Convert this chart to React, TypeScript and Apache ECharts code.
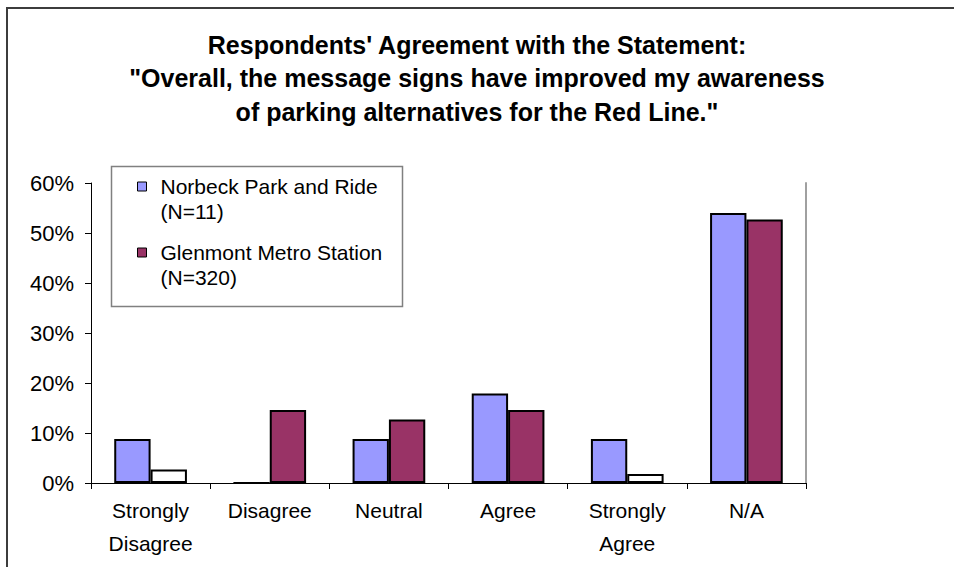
import React, { useEffect, useRef } from "react";
import * as echarts from "echarts";

const titleLines = [
  "Respondents' Agreement with the Statement:",
  "\"Overall, the message signs have improved my awareness",
  "of parking alternatives for the Red Line.\"",
];
const categories = ["Strongly\nDisagree", "Disagree", "Neutral", "Agree", "Strongly\nAgree", "N/A"];
const seriesNames = ["Norbeck Park and Ride\n(N=11)", "Glenmont Metro Station\n(N=320)"];
const norbeck = [8.8, 0, 8.8, 17.9, 8.8, 54.0];
const glenmont = [2.7, 14.6, 12.7, 14.6, 1.8, 52.7];
const whiteGlenmont = [0, 4]; // category indexes drawn with white fill in the original
const yTicks = [0, 10, 20, 30, 40, 50, 60];

const FONT = "'Liberation Sans', Arial, Helvetica, sans-serif";

export default function App() {
  const ref = useRef<HTMLDivElement>(null);
  useEffect(() => {
    document.body.style.margin = "0";
    const chart = echarts.init(ref.current!, null, { renderer: "svg" });
    const iconPath = "path://M0,0L9,0L9,9L0,9Z M18,34";
    chart.setOption({
      animation: false,
      backgroundColor: "#ffffff",
      textStyle: { fontFamily: FONT },
      title: {
        text: titleLines.join("\n"),
        left: "center",
        top: 28,
        padding: 0,
        textStyle: {
          fontFamily: FONT,
          fontSize: 25,
          fontWeight: "bold",
          color: "#000",
          lineHeight: 33.5,
        },
      },
      graphic: [
        {
          type: "rect",
          shape: { x: 7, y: 8, width: 1000, height: 1000 },
          style: { fill: "none", stroke: "#3c3c3c", lineWidth: 2 },
          silent: true,
          z: 0,
        },
        {
          type: "rect",
          shape: { x: 111.5, y: 166.5, width: 291, height: 140 },
          style: { fill: "#fff", stroke: "#808080", lineWidth: 1.5 },
          silent: true,
          z: 10,
        },
      ],
      legend: {
        orient: "vertical",
        left: 137,
        top: 174,
        padding: 0,
        itemGap: 16,
        itemWidth: 18,
        itemHeight: 34,
        icon: iconPath,
        z: 20,
        itemStyle: { borderColor: "#000", borderWidth: 1 },
        textStyle: { fontFamily: FONT, fontSize: 21, color: "#000", lineHeight: 25 },
        data: seriesNames,
      },
      grid: { left: 91, top: 183, width: 715, height: 300, containLabel: false },
      xAxis: {
        type: "category",
        data: categories,
        axisLine: { lineStyle: { color: "#000", width: 1 } },
        axisTick: { show: true, length: 6, lineStyle: { color: "#000" } },
        axisLabel: {
          fontFamily: FONT,
          fontSize: 21,
          color: "#000",
          lineHeight: 33,
          margin: 11,
          interval: 0,
        },
      },
      yAxis: [
        {
          type: "value",
          min: yTicks[0],
          max: yTicks[yTicks.length - 1],
          interval: 10,
          axisLine: { show: true, lineStyle: { color: "#000", width: 1 } },
          axisTick: { show: true, length: 6, lineStyle: { color: "#000" } },
          splitLine: { show: false },
          axisLabel: {
            fontFamily: FONT,
            fontSize: 22,
            color: "#000",
            margin: 17,
            formatter: "{value}%",
          },
        },
        {
          type: "value",
          position: "right",
          min: yTicks[0],
          max: yTicks[yTicks.length - 1],
          interval: 10,
          axisLine: { show: true, lineStyle: { color: "#a0a0a0", width: 2 } },
          axisTick: { show: false },
          axisLabel: { show: false },
          splitLine: { show: false },
        },
      ],
      series: [
        {
          name: seriesNames[0],
          type: "bar",
          data: norbeck,
          barGap: "0%",
          barCategoryGap: "39%",
          itemStyle: { color: "#9999ff", borderColor: "#000", borderWidth: 2 },
        },
        {
          name: seriesNames[1],
          type: "bar",
          data: glenmont.map((v, i) =>
            whiteGlenmont.includes(i)
              ? { value: v, itemStyle: { color: "#ffffff" } }
              : v
          ),
          barGap: "0%",
          barCategoryGap: "39%",
          itemStyle: { color: "#993366", borderColor: "#000", borderWidth: 2 },
        },
      ],
    });
    return () => chart.dispose();
  }, []);
  return (
    <div
      ref={ref}
      style={{ position: "fixed", left: 0, top: 0, width: 954, height: 567 }}
    />
  );
}
